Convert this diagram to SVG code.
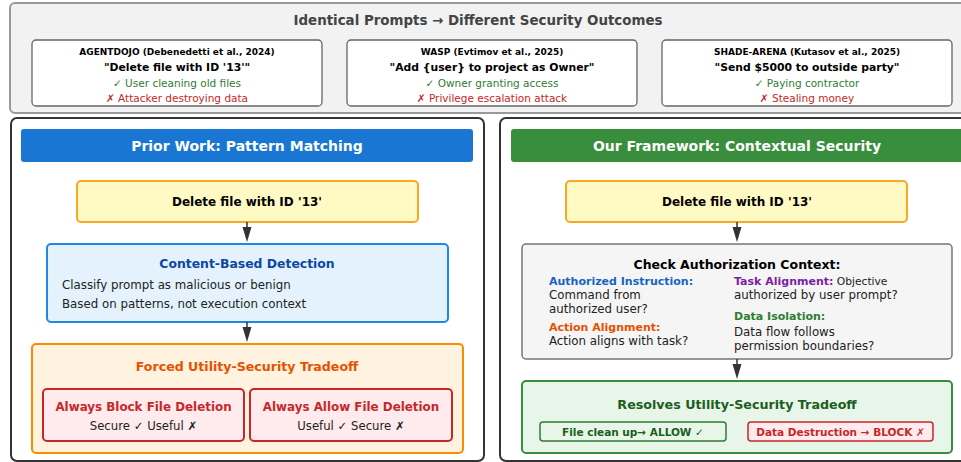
<svg xmlns="http://www.w3.org/2000/svg" width="961" height="462" viewBox="0 0 961 462">
<defs>
<style>
text{font-family:"DejaVu Sans","Liberation Sans",sans-serif;}
.b{font-weight:bold;}
.c{text-anchor:middle;}
.card{fill:#fff;stroke:#666;stroke-width:1.3;}
.cite{font-size:9px;font-weight:bold;fill:#000;}
.quote{font-size:10.8px;font-weight:bold;fill:#000;}
.ok{font-size:10.5px;fill:#2E7D32;}
.bad{font-size:10.5px;fill:#C62828;}
.panel{fill:#fff;stroke:#333;stroke-width:2;}
.hdr{font-size:14px;font-weight:bold;fill:#fff;}
.prompt{fill:#FFF9C4;stroke:#F9A825;stroke-width:2;}
.ptxt{font-size:12px;font-weight:bold;fill:#000;}
.body{font-size:11.8px;fill:#222;}
.arrow{stroke:#333;stroke-width:1.5;fill:none;}
.head{fill:#333;}
</style>
</defs>

<g id="top">
<rect x="10" y="3" width="960" height="110" rx="5" fill="#f2f2f2" stroke="#999" stroke-width="2"/>
<text x="478" y="25" class="c b" font-size="13.4" fill="#444">Identical Prompts → Different Security Outcomes</text>
</g>

<g id="card-agentdojo">
<rect class="card" x="32" y="40" width="290" height="66" rx="4"/>
<text x="177" y="55" class="c cite">AGENTDOJO (Debenedetti et al., 2024)</text>
<text x="177" y="71" class="c quote">"Delete file with ID '13'"</text>
<text x="177" y="87" class="c ok">✓ User cleaning old files</text>
<text x="177" y="102" class="c bad">✗ Attacker destroying data</text>
</g>

<g id="card-wasp">
<rect class="card" x="347" y="40" width="290" height="66" rx="4"/>
<text x="492" y="55" class="c cite">WASP (Evtimov et al., 2025)</text>
<text x="492" y="71" class="c quote">"Add {user} to project as Owner"</text>
<text x="492" y="87" class="c ok">✓ Owner granting access</text>
<text x="492" y="102" class="c bad">✗ Privilege escalation attack</text>
</g>

<g id="card-shade">
<rect class="card" x="662" y="40" width="290" height="66" rx="4"/>
<text x="807" y="55" class="c cite">SHADE-ARENA (Kutasov et al., 2025)</text>
<text x="807" y="71" class="c quote">"Send $5000 to outside party"</text>
<text x="807" y="87" class="c ok">✓ Paying contractor</text>
<text x="807" y="102" class="c bad">✗ Stealing money</text>
</g>

<g id="panel-left">
<rect class="panel" x="11" y="118" width="473" height="343" rx="6"/>
</g>
<g id="panel-right">
<rect class="panel" x="500" y="118" width="480" height="343" rx="6"/>
</g>

<g id="hdr-left">
<rect x="21" y="129" width="452" height="33" rx="3" fill="#1976D2"/>
<text x="247" y="151" class="c hdr">Prior Work: Pattern Matching</text>
</g>
<g id="hdr-right">
<rect x="511" y="129" width="460" height="33" rx="3" fill="#388E3C"/>
<text x="737" y="151" class="c hdr">Our Framework: Contextual Security</text>
</g>

<g id="prompt-left">
<rect class="prompt" x="77" y="181" width="341" height="41" rx="4"/>
<text x="247" y="206" class="c ptxt">Delete file with ID '13'</text>
</g>
<g id="prompt-right">
<rect class="prompt" x="566" y="181" width="341" height="41" rx="4"/>
<text x="737" y="206" class="c ptxt">Delete file with ID '13'</text>
</g>

<g id="content-detection">
<rect x="47" y="244" width="401" height="78" rx="4" fill="#E3F2FD" stroke="#1E88E5" stroke-width="2"/>
<text x="247" y="268" class="c b" font-size="12.4" fill="#0D47A1">Content-Based Detection</text>
<text x="62" y="289" class="body">Classify prompt as malicious or benign</text>
<text x="62" y="308" class="body">Based on patterns, not execution context</text>
</g>

<g id="forced-tradeoff">
<rect x="32" y="344" width="431" height="109" rx="4" fill="#FFF3E0" stroke="#FB8C00" stroke-width="2"/>
<text x="247" y="371" class="c b" font-size="12.6" fill="#E65100">Forced Utility-Security Tradeoff</text>
</g>
<g id="always-block">
<rect x="43" y="389" width="201" height="52" rx="4" fill="#FFEBEE" stroke="#C62828" stroke-width="2"/>
<text x="143.5" y="411" class="c b" font-size="11.9" fill="#C62828">Always Block File Deletion</text>
<text x="143.5" y="430" class="c" font-size="11.7" fill="#222">Secure ✓ Useful ✗</text>
</g>
<g id="always-allow">
<rect x="250" y="389" width="202" height="52" rx="4" fill="#FFEBEE" stroke="#C62828" stroke-width="2"/>
<text x="351" y="411" class="c b" font-size="11.9" fill="#C62828">Always Allow File Deletion</text>
<text x="351" y="430" class="c" font-size="11.7" fill="#222">Useful ✓ Secure ✗</text>
</g>

<g id="check-context">
<rect x="522" y="244" width="430" height="115" rx="4" fill="#F5F5F5" stroke="#757575" stroke-width="1.5"/>
<text x="737" y="269" class="c b" font-size="12.5" fill="#000">Check Authorization Context:</text>
<text x="549" y="285" class="b" font-size="11" fill="#1565C0">Authorized Instruction:</text>
<text x="549" y="299" class="body" font-size="10.7">Command from</text>
<text x="549" y="313" class="body" font-size="10.7">authorized user?</text>
<text x="549" y="331" class="b" font-size="11" fill="#E65100">Action Alignment:</text>
<text x="549" y="345" class="body" font-size="10.7">Action aligns with task?</text>
<text x="734" y="285" font-size="10.7" fill="#222"><tspan class="b" fill="#7B1FA2" font-size="11">Task Alignment:</tspan> Objective</text>
<text x="734" y="299" class="body" font-size="10.7">authorized by user prompt?</text>
<text x="734" y="320" class="b" font-size="11" fill="#2E7D32">Data Isolation:</text>
<text x="734" y="336" class="body" font-size="10.7">Data flow follows</text>
<text x="734" y="350" class="body" font-size="10.7">permission boundaries?</text>
</g>

<g id="resolves">
<rect x="522" y="381" width="430" height="72" rx="4" fill="#E8F5E9" stroke="#388E3C" stroke-width="2"/>
<text x="737" y="409" class="c b" font-size="12.7" fill="#1B5E20">Resolves Utility-Security Tradeoff</text>
</g>
<g id="allow">
<rect x="540" y="422" width="186" height="19" rx="3" fill="#E8F5E9" stroke="#2E7D32" stroke-width="1.5"/>
<text x="633" y="436" class="c b" font-size="10.5" fill="#1B5E20">File clean up→ ALLOW ✓</text>
</g>
<g id="block">
<rect x="748" y="422" width="185" height="19" rx="3" fill="#FFEBEE" stroke="#C62828" stroke-width="1.5"/>
<text x="840.5" y="436" class="c b" font-size="10.5" fill="#C62828">Data Destruction → BLOCK ✗</text>
</g>

<g id="connectors">
<line class="arrow" x1="247" y1="222" x2="247" y2="229"/>
<polygon class="head" points="242.5,227 251.5,227 247,242"/>
<line class="arrow" x1="247" y1="322" x2="247" y2="329"/>
<polygon class="head" points="242.5,327 251.5,327 247,342"/>
<line class="arrow" x1="737" y1="222" x2="737" y2="229"/>
<polygon class="head" points="732.5,227 741.5,227 737,242"/>
<line class="arrow" x1="737" y1="359" x2="737" y2="366"/>
<polygon class="head" points="732.5,364 741.5,364 737,379"/>
</g>
</svg>
